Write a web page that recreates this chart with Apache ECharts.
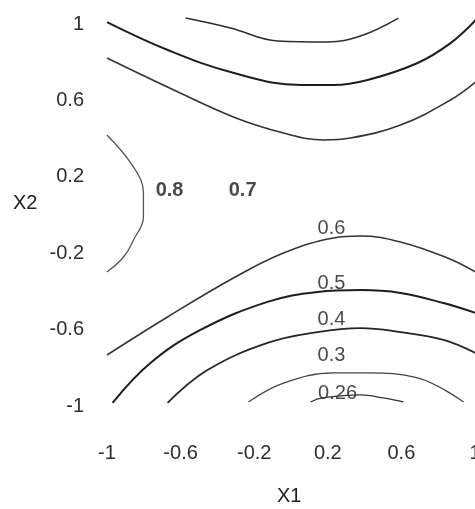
<!DOCTYPE html>
<html>
<head>
<meta charset="utf-8">
<script src="https://cdn.jsdelivr.net/npm/echarts@6/dist/echarts.min.js"></script>
<style>
  html, body { margin: 0; padding: 0; background: #fff; overflow: hidden; }
  #chart { width: 475px; height: 509px; }
</style>
</head>
<body>
<div id="chart"></div>
<script>
// Tick positions and their printed labels
const xTicks = [-1, -0.6, -0.2, 0.2, 0.6, 1];
const yTicks = [-1, -0.6, -0.2, 0.2, 0.6, 1];
const tickText = { '-1': '-1', '-0.6': '-0.6', '-0.2': '-0.2', '0.2': '0.2', '0.6': '0.6', '1': '1' };

// Contour lines, each as [X1, X2] points
const contourTopInner = [[-0.573, 1.031], [-0.329, 0.979], [-0.073, 0.911], [0.198, 0.906], [0.378, 0.937], [0.584, 1.031]];
const contourTopMid = [[-1.0, 1.01], [-0.67, 0.864], [-0.31, 0.743], [0.052, 0.681], [0.231, 0.681], [0.416, 0.707], [0.688, 0.796], [0.867, 0.90], [1.003, 1.02]];
const contourTopOuter = [[-1.0, 0.822], [-0.671, 0.670], [-0.313, 0.513], [-0.041, 0.429], [0.177, 0.393], [0.323, 0.403], [0.595, 0.471], [0.867, 0.602], [1.003, 0.696]];
const contour08 = [[-1.0, 0.419], [-0.856, 0.251], [-0.802, 0.115], [-0.802, -0.010], [-0.856, -0.131], [-0.910, -0.220], [-1.0, -0.298]];
const contour06 = [[-1.0, -0.733], [-0.671, -0.534], [-0.313, -0.330], [-0.041, -0.199], [0.231, -0.120], [0.378, -0.110], [0.595, -0.141], [0.851, -0.225], [1.003, -0.298]];
const contour05 = [[-0.970, -0.984], [-0.764, -0.775], [-0.492, -0.602], [-0.128, -0.455], [0.144, -0.403], [0.378, -0.393], [0.595, -0.408], [0.829, -0.461], [1.003, -0.513]];
const contour04 = [[-0.671, -0.984], [-0.454, -0.812], [-0.128, -0.670], [0.144, -0.613], [0.378, -0.592], [0.595, -0.613], [0.829, -0.654], [1.003, -0.723]];
const contour03 = [[-0.231, -0.979], [-0.041, -0.880], [0.231, -0.827], [0.416, -0.827], [0.688, -0.853], [0.938, -0.979]];
const contour026 = [[0.106, -0.979], [0.171, -0.958], [0.378, -0.942], [0.503, -0.958], [0.611, -0.979]];

// Contour level annotations
const levelText = ['0.8', '0.7', '0.6', '0.5', '0.4', '0.3', '0.26'];
const levelX = [-0.66, -0.263, 0.22, 0.22, 0.22, 0.22, 0.253];
const levelY = [0.126, 0.126, -0.073, -0.356, -0.545, -0.738, -0.932];
const levelBold = [true, true, false, false, false, false, false];

const chart = echarts.init(document.getElementById('chart'), null, { renderer: 'canvas', width: 475, height: 509 });

function contour(data, width, color) {
  return {
    type: 'line',
    data: data,
    smooth: 0.4,
    showSymbol: false,
    clip: false,
    silent: true,
    lineStyle: { color: color, width: width }
  };
}

const FONT = '"Liberation Sans", Arial, sans-serif';

chart.setOption({
  animation: false,
  backgroundColor: '#ffffff',
  grid: { left: 107, right: 0, top: 24, bottom: 103, containLabel: false, outerBoundsMode: 'none' },
  xAxis: {
    type: 'value', min: -1, max: 1,
    axisLine: { show: false }, axisTick: { show: false }, splitLine: { show: false },
    axisLabel: {
      customValues: xTicks, margin: 37, color: '#2e2e2e', fontSize: 20, fontFamily: FONT,
      hideOverlap: false,
      formatter: v => tickText[String(Math.round(v * 10) / 10)]
    }
  },
  yAxis: {
    type: 'value', min: -1, max: 1,
    axisLine: { show: false }, axisTick: { show: false }, splitLine: { show: false },
    axisLabel: {
      customValues: yTicks, margin: 23, color: '#2e2e2e', fontSize: 20, fontFamily: FONT,
      formatter: v => tickText[String(Math.round(v * 10) / 10)]
    }
  },
  graphic: [
    { type: 'text', left: 277, top: 486, style: { text: 'X1', fill: '#222', font: '20px ' + FONT } },
    { type: 'text', left: 13, top: 193, style: { text: 'X2', fill: '#222', font: '20px ' + FONT } }
  ],
  series: [
    contour(contourTopInner, 1.6, '#2e2e2e'),
    contour(contourTopMid, 2.0, '#1e1e1e'),
    contour(contourTopOuter, 1.6, '#333333'),
    contour(contour08, 1.3, '#555555'),
    contour(contour06, 1.5, '#333333'),
    contour(contour05, 2.0, '#1e1e1e'),
    contour(contour04, 1.8, '#252525'),
    contour(contour03, 1.2, '#444444'),
    contour(contour026, 1.3, '#333333'),
    {
      type: 'scatter',
      symbolSize: 0,
      silent: true,
      clip: false,
      data: levelText.map((t, i) => ({
        value: [levelX[i], levelY[i]], name: t,
        label: { fontWeight: levelBold[i] ? 'bold' : 'normal' }
      })),
      label: {
        show: true, position: 'inside', formatter: p => p.name,
        color: '#1a1a1a', fontSize: 20, fontFamily: FONT
      }
    }
  ]
});
</script>
</body>
</html>
